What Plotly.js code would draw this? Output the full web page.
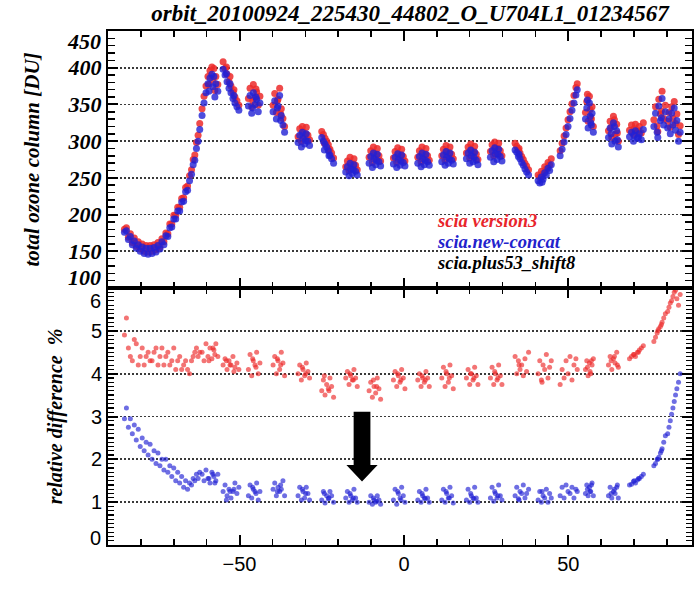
<!DOCTYPE html>
<html><head><meta charset="utf-8">
<script src="https://cdn.plot.ly/plotly-3.0.1.min.js"></script>
<style>body{margin:0;background:#fff}#chart{width:695px;height:589px}</style>
</head><body><div id="chart"></div>
<script>
// latitude of each ground pixel (shared by all series)
const lat = [
 -85.0,-83.8,-82.6,-81.4,-80.2,-79.0,-77.8,-76.6,-75.4,-74.2,-73.0,-71.8,-70.6,-69.4,-68.2,-67.0,-65.8,-64.6,-63.6,-62.6,
 -84.4,-83.2,-82.0,-80.8,-79.6,-78.4,-77.2,-76.0,-74.8,-73.6,-72.4,-71.2,-70.0,-68.8,-67.6,-66.4,-65.2,-64.1,-63.1,-62.1,
 -61.4,-60.8,-60.2,-59.6,-59.0,-58.4,-57.8,-57.2,-56.6,-59.3,-58.1,-57.5,
 -55.0,-54.4,-53.8,-53.2,-52.6,-52.0,-51.4,-50.8,-50.2,-54.0,-52.9,-51.7,
 -47.3,-46.8,-46.3,-45.8,-45.3,-44.8,-44.3,-43.8,-46.0,-45.0,
 -39.8,-39.3,-38.8,-38.3,-37.8,-37.3,-36.8,-36.3,-38.5,-37.5,
 -32.2,-31.7,-31.2,-30.7,-30.2,-29.7,-29.2,-28.7,-30.9,-29.9,
 -25.0,-24.5,-24.0,-23.5,-23.0,-22.5,-22.0,-21.4,-24.2,-22.8,
 -17.7,-17.2,-16.7,-16.2,-15.7,-15.2,-14.7,-14.2,-16.4,-15.4,
 -10.6,-10.1,-9.6,-9.1,-8.6,-8.1,-7.6,-7.1,-9.3,-8.3,
 -3.2,-2.7,-2.2,-1.7,-1.2,-0.7,-0.2,0.3,-1.9,-0.9,
 4.2,4.7,5.2,5.7,6.2,6.7,7.2,7.7,5.5,6.5,
 11.5,12.0,12.5,13.0,13.5,14.0,14.5,15.0,12.8,13.8,
 19.0,19.5,20.0,20.5,21.0,21.5,22.0,22.5,20.3,21.3,
 26.3,26.8,27.3,27.8,28.3,28.8,29.3,29.8,27.6,28.6,
 33.8,34.3,34.8,35.3,35.8,36.3,36.8,37.3,37.9,35.0,
 40.8,41.3,41.8,42.3,42.8,43.3,43.8,44.3,44.8,42.0,
 47.5,48.1,48.7,49.3,49.9,50.5,51.1,51.7,52.3,52.7,
 55.2,55.6,56.0,56.4,56.8,57.2,57.6,55.8,56.6,57.0,
 62.2,62.7,63.2,63.7,64.2,64.7,65.2,63.0,64.0,64.9,
 68.6,69.2,69.8,70.4,71.0,71.6,72.2,72.8,70.0,71.3,
 76.0,76.5,77.0,77.5,78.0,78.5,79.0,79.5,77.2,78.3,
 80.2,80.6,81.0,81.4,81.8,82.2,82.6,83.0,83.5,84.0
];
// total ozone column [DU], scia version3
const ozoneV3 = [
 180,169,162,157,153,150,149,150,152,156,163,174,187,199,210,223,239,261,281,308,
 182,174,168,163,160,158,158,159,162,167,175,187,199,210,222,237,253,275,298,324,
 344,361,375,388,396,401,399,388,377,377,383,369,
 408,399,391,381,375,367,360,355,349,401,388,370,
 358,372,347,377,359,367,349,361,355,371,
 349,365,339,357,372,344,331,320,355,337,
 306,317,300,313,305,319,308,302,320,310,
 313,309,304,300,295,289,284,277,297,288,
 265,273,260,270,263,276,267,261,278,269,
 278,287,271,284,276,290,280,273,292,282,
 277,286,271,283,275,289,279,273,291,281,
 278,287,272,284,276,290,280,274,292,282,
 280,289,274,286,278,292,282,276,294,284,
 284,292,277,288,280,293,282,275,296,286,
 286,295,280,291,283,297,287,280,299,290,
 297,293,288,284,279,275,270,266,261,290,
 254,251,259,256,265,262,271,268,276,252,
 287,297,307,318,329,340,351,362,373,378,
 339,354,327,361,333,347,320,364,343,330,
 314,327,305,334,309,323,300,319,329,311,
 315,322,309,323,313,320,311,325,317,314,
 329,347,321,357,337,368,331,349,313,341,
 327,339,319,347,331,354,324,337,309,321
];
// total ozone column [DU], scia.new-concat
const ozoneNew = [
 176,166,159,154,150,147,146,147,149,153,159,170,183,194,205,218,233,255,274,300,
 178,170,164,159,156,154,154,155,158,163,171,182,194,205,217,231,246,268,290,316,
 335,352,366,378,386,391,388,378,368,368,374,360,
 398,390,381,372,366,358,352,347,342,392,378,362,
 348,362,338,366,350,357,340,352,345,360,
 340,355,330,348,362,335,322,312,345,328,
 298,308,292,304,296,310,300,294,312,301,
 305,300,296,292,287,281,276,270,288,280,
 258,265,253,262,256,268,259,254,270,261,
 270,279,264,276,268,282,272,266,284,274,
 269,278,264,275,267,281,271,266,283,273,
 270,279,265,276,268,282,272,267,284,274,
 272,281,267,278,270,284,274,269,286,276,
 276,284,270,280,272,285,274,268,288,278,
 278,287,272,283,275,289,279,273,291,282,
 288,285,279,276,271,267,262,258,254,282,
 246,243,251,248,257,254,263,260,268,244,
 280,289,299,309,320,331,342,352,363,370,
 330,345,318,352,325,338,312,356,334,322,
 305,318,296,325,300,314,292,310,320,302,
 306,312,300,314,304,310,302,316,308,305,
 320,338,312,348,328,358,322,340,305,332,
 318,330,310,338,322,345,315,328,300,312
];
// relative difference %, scia version3
const diffV3 = [
 4.9,4.6,4.3,4.7,4.4,4.2,4.5,4.3,4.6,4.4,4.2,4.5,4.3,4.1,4.4,4.2,4.1,4.3,4.5,4.4,
 5.3,4.4,4.8,4.2,4.6,4.4,4.3,4.5,4.2,4.6,4.4,4.2,4.6,4.3,4.1,4.3,4.0,4.4,4.6,4.5,
 4.5,4.3,4.7,4.4,4.6,4.35,4.55,4.7,4.4,4.3,4.6,4.45,
 4.2,4.35,4.1,4.3,4.2,4.4,4.15,4.25,4.1,4.3,4.2,4.05,
 4.1,4.45,3.95,4.3,4.2,4.5,4.0,4.25,4.35,4.15,
 4.2,4.4,4.0,4.3,4.1,4.5,4.25,3.95,4.35,4.2,
 4.0,4.2,3.85,4.1,3.95,4.25,4.05,3.9,4.15,4.0,
 3.6,3.85,3.5,3.75,3.65,3.9,3.7,3.45,3.95,3.6,
 3.9,4.05,3.75,3.95,3.85,4.1,3.9,3.7,4.0,3.85,
 3.6,3.8,3.45,3.7,3.55,3.9,3.65,3.4,3.85,3.7,
 3.85,4.05,3.7,3.95,3.8,4.1,3.9,3.65,4.0,3.85,
 3.85,4.0,3.7,3.9,3.8,4.05,3.9,3.7,3.95,3.85,
 3.9,4.15,3.7,4.0,3.8,4.2,3.95,3.65,4.05,3.9,
 3.9,4.1,3.75,4.0,3.85,4.15,3.95,3.75,4.0,3.9,
 3.9,4.15,3.75,4.0,3.85,4.2,3.95,3.75,4.05,3.9,
 4.4,4.0,4.3,4.1,4.2,3.95,4.35,4.05,4.5,4.2,
 4.0,4.3,3.85,4.2,4.1,4.45,3.9,4.15,4.3,3.8,
 3.75,4.1,3.9,4.3,4.0,4.4,3.85,4.2,4.35,4.1,
 4.1,4.3,3.95,4.25,4.0,4.2,4.35,4.15,4.05,4.3,
 4.2,4.4,4.1,4.35,4.25,4.5,4.15,4.3,4.4,4.2,
 4.35,4.4,4.45,4.4,4.5,4.55,4.6,4.65,4.45,4.5,
 4.75,4.85,4.95,5.05,5.1,5.2,5.3,5.4,5.0,5.15,
 5.45,5.55,5.65,5.7,5.8,5.9,5.95,5.75,5.6,5.85
];
// relative difference %, scia.new-concat
const diffNew = [
 2.95,2.75,2.6,2.45,2.3,2.2,2.1,2.0,1.9,1.85,1.75,1.7,1.6,1.5,1.45,1.35,1.3,1.4,1.5,1.55,
 3.2,2.95,2.8,2.7,2.5,2.4,2.35,2.2,2.15,2.0,2.0,1.85,1.8,1.7,1.6,1.5,1.45,1.55,1.65,1.7,
 1.65,1.5,1.75,1.55,1.45,1.7,1.6,1.5,1.65,1.55,1.65,1.45,
 1.25,1.4,1.15,1.3,1.1,1.25,1.45,1.2,1.35,1.05,1.25,1.3,
 1.15,1.4,1.1,1.3,1.25,1.45,1.05,1.25,1.35,1.2,
 1.3,1.45,1.15,1.35,1.25,1.3,1.5,1.15,1.25,1.4,
 1.15,1.35,1.05,1.25,1.1,1.35,1.2,1.05,1.3,1.2,
 1.05,1.25,0.98,1.15,1.08,1.25,1.15,1.0,1.2,1.1,
 1.1,1.25,1.0,1.15,1.05,1.3,1.1,1.0,1.2,1.1,
 1.0,1.15,0.95,1.05,1.0,1.15,1.05,0.95,1.1,1.02,
 1.05,1.3,0.95,1.2,1.1,1.35,1.15,1.0,1.25,1.05,
 1.05,1.25,1.0,1.15,1.1,1.3,1.1,1.0,1.2,1.08,
 1.05,1.3,1.0,1.2,1.1,1.35,1.15,0.98,1.25,1.1,
 1.05,1.3,1.0,1.15,1.1,1.35,1.1,1.0,1.2,1.08,
 1.1,1.35,1.02,1.2,1.1,1.4,1.15,1.05,1.25,1.15,
 1.15,1.35,1.08,1.25,1.2,1.4,1.1,1.2,1.3,1.05,
 1.05,1.25,1.0,1.15,1.1,1.3,1.0,1.2,1.1,1.25,
 1.15,1.35,1.1,1.4,1.25,1.2,1.35,1.1,1.3,1.25,
 1.2,1.4,1.15,1.35,1.25,1.45,1.15,1.3,1.25,1.4,
 1.15,1.35,1.1,1.25,1.2,1.35,1.1,1.2,1.3,1.4,
 1.4,1.42,1.48,1.45,1.52,1.55,1.6,1.65,1.5,1.55,
 1.85,1.9,2.0,2.05,2.15,2.25,2.4,2.55,2.0,2.2,
 2.6,2.75,2.9,3.05,3.2,3.35,3.5,3.65,3.8,4.0
];
const seriesNames = ['scia version3', 'scia.new-concat', 'scia.plus53_shift8'];
const seriesColors = ['#e8252b', '#2222cc', '#000000'];
const ozoneTicks = [100, 150, 200, 250, 300, 350, 400, 450];
const diffTicks = [0, 1, 2, 3, 4, 5, 6];
const xTicks = [-50, 0, 50];
const latRange = [-90, 87.6];
const ozoneRange = [100, 450];
const diffRange = [0, 6];

const serifBI = {family: 'Liberation Serif, Times New Roman, serif', weight: 'bold', style: 'italic', color: '#000'};
const sans = {family: 'Liberation Sans, Arial, sans-serif', color: '#000'};
const red = '#ec2a2a', blue = '#2020d4';

const traces = [
  {x: lat, y: ozoneV3, xaxis: 'x2', yaxis: 'y2', type: 'scatter', mode: 'markers', name: seriesNames[0],
   marker: {color: red, size: 7, opacity: 0.85}},
  {x: lat, y: ozoneNew, xaxis: 'x2', yaxis: 'y2', type: 'scatter', mode: 'markers', name: seriesNames[1],
   marker: {color: blue, size: 7, opacity: 0.8}},
  {x: lat, y: diffV3, xaxis: 'x', yaxis: 'y', type: 'scatter', mode: 'markers', name: seriesNames[0],
   marker: {color: red, size: 5, opacity: 0.65}},
  {x: lat, y: diffNew, xaxis: 'x', yaxis: 'y', type: 'scatter', mode: 'markers', name: seriesNames[1],
   marker: {color: blue, size: 5, opacity: 0.65}}
];

const tickBase = {ticks: 'inside', ticklen: 10, tickwidth: 2, tickcolor: '#000'};
const commonX = Object.assign({}, tickBase, {
  range: latRange, tickmode: 'linear', tick0: 0, dtick: 50,
  minor: {tickmode: 'linear', tick0: 0, dtick: 10, ticks: 'inside', ticklen: 6, tickwidth: 1.5, tickcolor: '#000', showgrid: false},
  showline: true, linecolor: '#000', linewidth: 2, mirror: 'ticks', showgrid: false, zeroline: false
});
const gridStyle = {showgrid: true, gridcolor: '#3a3a3a', gridwidth: 1.8, griddash: '2px,2px'};

const layout = {
  width: 695, height: 589, margin: {l: 108, r: 3, t: 31, b: 44},
  paper_bgcolor: '#fff', plot_bgcolor: '#fff', showlegend: false,
  title: {text: 'orbit_20100924_225430_44802_O_U704L1_01234567', xref: 'container', yref: 'container',
          x: 0.59, xanchor: 'center', y: 0.978, yanchor: 'middle', font: Object.assign({}, serifBI, {size: 23})},
  xaxis: Object.assign({}, commonX, {domain: [0, 1], anchor: 'y', tickfont: Object.assign({}, sans, {size: 20})}),
  xaxis2: Object.assign({}, commonX, {domain: [0, 1], anchor: 'y2', showticklabels: false}),
  yaxis: Object.assign({}, gridStyle, tickBase, {
    domain: [0, 0.5], anchor: 'x', range: diffRange, tickmode: 'array', tickvals: diffTicks,
    ticktext: diffTicks.map((v, i) => (i === 0 || i === diffTicks.length - 1) ? '' : String(v)),
    minor: {tickmode: 'linear', tick0: 0, dtick: 0.1, ticks: 'inside', ticklen: 6, tickwidth: 1.2, tickcolor: '#000', showgrid: false},
    showline: true, linecolor: '#000', linewidth: 2, mirror: 'ticks', zeroline: false,
    tickfont: Object.assign({}, sans, {size: 20}),
    title: {text: 'relative difference  %', font: Object.assign({}, serifBI, {size: 20}), standoff: 23}
  }),
  yaxis2: Object.assign({}, gridStyle, tickBase, {
    domain: [0.5, 1], anchor: 'x2', range: ozoneRange, tickmode: 'array', tickvals: ozoneTicks,
    ticktext: ozoneTicks.map((v, i) => (i === 0 || i === ozoneTicks.length - 1) ? '' : String(v)),
    minor: {tickmode: 'linear', tick0: 0, dtick: 10, ticks: 'inside', ticklen: 7, tickwidth: 1.5, tickcolor: '#000', showgrid: false},
    showline: true, linecolor: '#000', linewidth: 2, mirror: 'ticks', zeroline: false,
    tickfont: Object.assign({}, serifBI, {size: 22}),
    title: {text: 'total ozone column [DU]', font: Object.assign({}, serifBI, {size: 21}), standoff: 22}
  }),
  shapes: [{
    type: 'path', xref: 'x', yref: 'y', fillcolor: '#000', line: {width: 0},
    path: 'M -15.3 3.11 L -10.2 3.11 L -10.2 1.87 L -8.0 1.87 L -12.75 1.48 L -17.5 1.87 L -15.3 1.87 Z'
  }],
  annotations: [
    {xref: 'x2', yref: 'y2', x: 9.5, y: 191, xanchor: 'left', yanchor: 'middle', showarrow: false,
     text: seriesNames[0], font: Object.assign({}, serifBI, {size: 18.5, color: seriesColors[0]})},
    {xref: 'x2', yref: 'y2', x: 9.5, y: 162.5, xanchor: 'left', yanchor: 'middle', showarrow: false,
     text: seriesNames[1], font: Object.assign({}, serifBI, {size: 18.5, color: seriesColors[1]})},
    {xref: 'x2', yref: 'y2', x: 9.5, y: 134, xanchor: 'left', yanchor: 'middle', showarrow: false,
     text: seriesNames[2], font: Object.assign({}, serifBI, {size: 18.5, color: seriesColors[2]})},
    {xref: 'paper', yref: 'y2', x: 0, y: ozoneTicks[ozoneTicks.length - 1], xanchor: 'right', yanchor: 'middle', xshift: -5, yshift: -10,
     showarrow: false, text: String(ozoneTicks[ozoneTicks.length - 1]), font: Object.assign({}, serifBI, {size: 22})},
    {xref: 'paper', yref: 'y2', x: 0, y: ozoneTicks[0], xanchor: 'right', yanchor: 'middle', xshift: -5, yshift: 11,
     showarrow: false, text: String(ozoneTicks[0]), font: Object.assign({}, serifBI, {size: 22})},
    {xref: 'paper', yref: 'y', x: 0, y: diffTicks[diffTicks.length - 1], xanchor: 'right', yanchor: 'middle', xshift: -5, yshift: -13,
     showarrow: false, text: String(diffTicks[diffTicks.length - 1]), font: Object.assign({}, sans, {size: 20})},
    {xref: 'paper', yref: 'y', x: 0, y: diffTicks[0], xanchor: 'right', yanchor: 'middle', xshift: -5, yshift: 7,
     showarrow: false, text: String(diffTicks[0]), font: Object.assign({}, sans, {size: 20})}
  ]
};

Plotly.newPlot('chart', traces, layout, {displayModeBar: false, staticPlot: true});
</script>
</body></html>
